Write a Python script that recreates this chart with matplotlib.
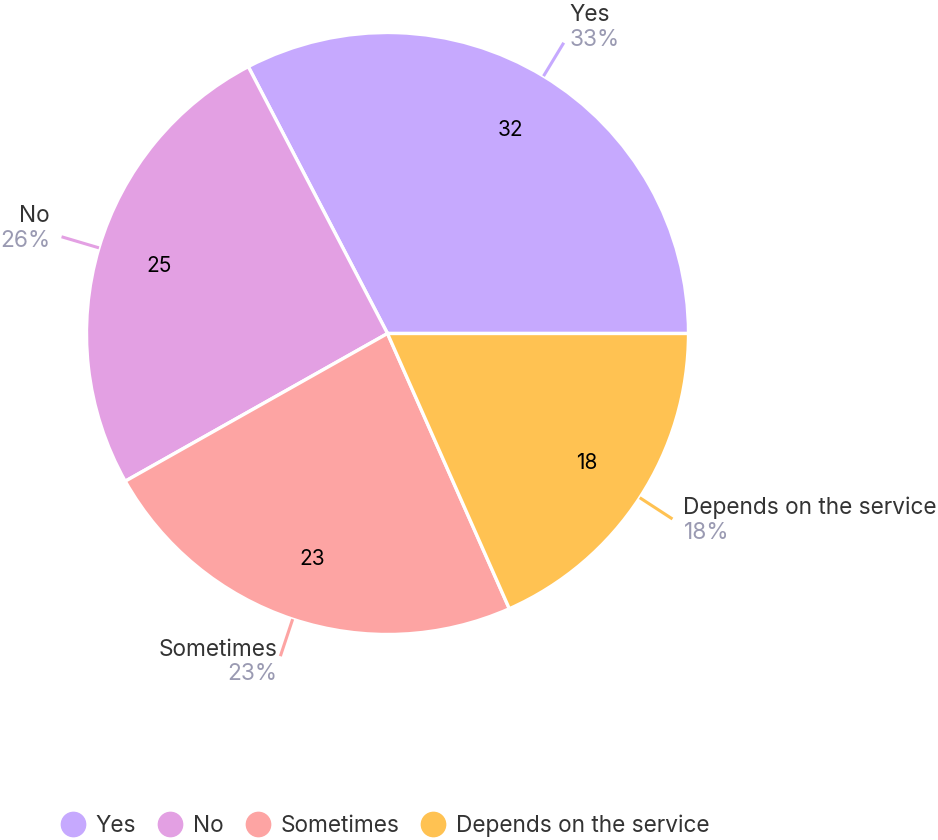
import numpy as np
import matplotlib.pyplot as plt
from matplotlib.lines import Line2D

# survey answers
labels = ['Yes', 'No', 'Sometimes', 'Depends on the service']
counts = [32, 25, 23, 18]
colors = ['#C6A9FE', '#E3A0E3', '#FDA4A3', '#FFC252']

W, H = 938, 840
plt.rcParams['font.family'] = ['Inter', 'DejaVu Sans']

fig = plt.figure(figsize=(W / 100, H / 100), dpi=100)
ax = fig.add_axes([0, 0, 1, 1])

cx, cy, r = 387.5, H - 333.5, 301
wedges, _, autotexts = ax.pie(
    counts, colors=colors, startangle=0, counterclock=True,
    center=(cx, cy), radius=r, frame=True,
    autopct=lambda p: '{:.0f}'.format(p * sum(counts) / 100),
    pctdistance=0.79,
    wedgeprops=dict(edgecolor='white', linewidth=2.4))
ax.set_xlim(0, W)
ax.set_ylim(0, H)
ax.set_aspect('equal')
ax.axis('off')
for t in autotexts:
    t.set_fontsize(15)
    t.set_color('black')

# outside labels with leader lines
total = sum(counts)
pcts = [round(c / total * 100) for c in counts]
# (name dx, name dy, pct dx, pct dy, ha) relative to the leader line end
label_layout = [
    (6, 28, 6, 3, 'left'),
    (-12, 21, -11, -4, 'right'),
    (-3, 6, -3, -18, 'right'),
    (11, 11, 11, -14, 'left'),
]
for w, name, p, col, lay in zip(wedges, labels, pcts, colors, label_layout):
    ang = np.deg2rad((w.theta1 + w.theta2) / 2)
    x0, y0 = cx + r * np.cos(ang), cy + r * np.sin(ang)
    x1, y1 = cx + 340 * np.cos(ang), cy + 340 * np.sin(ang)
    ax.plot([x0, x1], [y0, y1], color=col, lw=2.2, solid_capstyle='butt')
    ndx, ndy, pdx, pdy, ha = lay
    ax.text(x1 + ndx, y1 + ndy, name, ha=ha, va='center',
            fontsize=16.3, color='#333333')
    ax.text(x1 + pdx, y1 + pdy, '{}%'.format(p), ha=ha, va='center',
            fontsize=16.3, color='#9A9AB2')

handles = [Line2D([], [], marker='o', ls='', markersize=17.5,
                  markerfacecolor=c, markeredgecolor=c) for c in colors]
fig.legend(handles, labels, loc='center left',
           bbox_to_anchor=(37 / W, 1 - 826 / H), ncol=4, frameon=False,
           fontsize=16.3, handletextpad=0.3, columnspacing=0.8,
           handlelength=1.4, labelcolor='#333333')

fig.savefig('out.png', dpi=100, facecolor='white')
